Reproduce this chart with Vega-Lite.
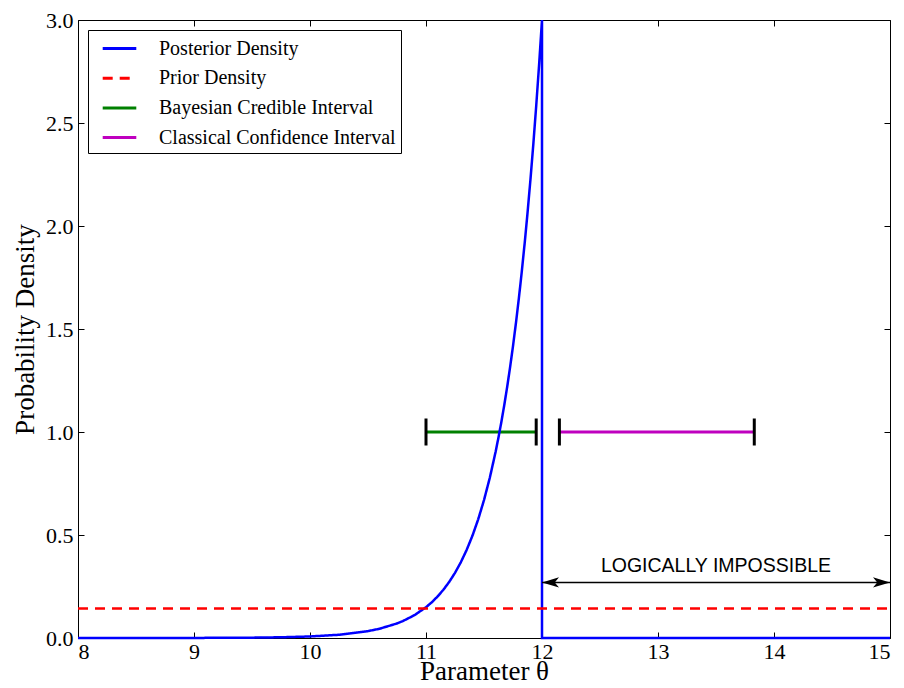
{
  "$schema": "https://vega.github.io/schema/vega-lite/v6.json",
  "width": 812,
  "height": 618,
  "autosize": {"type": "none"},
  "padding": {"left": 78, "top": 20, "right": 14, "bottom": 50},
  "background": "white",
  "config": {
    "view": {"stroke": "black", "strokeWidth": 1},
    "axis": {
      "domain": false,
      "grid": false,
      "ticks": true,
      "tickColor": "black",
      "tickSize": -6,
      "tickWidth": 1,
      "labelFont": "Liberation Serif",
      "labelFontSize": 22,
      "labelColor": "black",
      "titleFont": "Liberation Serif",
      "titleFontSize": 27,
      "titleFontWeight": "normal",
      "titleColor": "black"
    },
    "legend": {
      "orient": "top-left",
      "offset": 10,
      "padding": 5,
      "strokeColor": "black",
      "fillColor": "white",
      "cornerRadius": 0,
      "labelFont": "Liberation Serif",
      "labelFontSize": 20,
      "labelColor": "black",
      "labelLimit": 500,
      "labelExpr": "datum.label + '      '",
      "symbolType": "M-1.4,0L1.4,0",
      "symbolStrokeWidth": 3,
      "symbolSize": 576,
      "symbolOffset": 13,
      "labelOffset": 26,
      "rowPadding": 5.7
    }
  },
  "datasets": {
    "posterior": [
      {"i": 1, "theta": 8.0, "density": 0.00002, "series": "Posterior Density"},
      {"i": 2, "theta": 8.5, "density": 0.00008, "series": "Posterior Density"},
      {"i": 3, "theta": 9.0, "density": 0.00037, "series": "Posterior Density"},
      {"i": 4, "theta": 9.5, "density": 0.00166, "series": "Posterior Density"},
      {"i": 5, "theta": 9.75, "density": 0.0035, "series": "Posterior Density"},
      {"i": 6, "theta": 10.0, "density": 0.00744, "series": "Posterior Density"},
      {"i": 7, "theta": 10.25, "density": 0.01575, "series": "Posterior Density"},
      {"i": 8, "theta": 10.5, "density": 0.0333, "series": "Posterior Density"},
      {"i": 9, "theta": 10.6, "density": 0.045, "series": "Posterior Density"},
      {"i": 10, "theta": 10.75, "density": 0.0706, "series": "Posterior Density"},
      {"i": 11, "theta": 10.8, "density": 0.082, "series": "Posterior Density"},
      {"i": 12, "theta": 10.9, "density": 0.1106, "series": "Posterior Density"},
      {"i": 13, "theta": 11.0, "density": 0.1494, "series": "Posterior Density"},
      {"i": 14, "theta": 11.05, "density": 0.1735, "series": "Posterior Density"},
      {"i": 15, "theta": 11.1, "density": 0.2016, "series": "Posterior Density"},
      {"i": 16, "theta": 11.15, "density": 0.2343, "series": "Posterior Density"},
      {"i": 17, "theta": 11.2, "density": 0.2722, "series": "Posterior Density"},
      {"i": 18, "theta": 11.25, "density": 0.3162, "series": "Posterior Density"},
      {"i": 19, "theta": 11.3, "density": 0.3674, "series": "Posterior Density"},
      {"i": 20, "theta": 11.35, "density": 0.4269, "series": "Posterior Density"},
      {"i": 21, "theta": 11.4, "density": 0.4959, "series": "Posterior Density"},
      {"i": 22, "theta": 11.45, "density": 0.5761, "series": "Posterior Density"},
      {"i": 23, "theta": 11.5, "density": 0.6694, "series": "Posterior Density"},
      {"i": 24, "theta": 11.55, "density": 0.7776, "series": "Posterior Density"},
      {"i": 25, "theta": 11.6, "density": 0.9036, "series": "Posterior Density"},
      {"i": 26, "theta": 11.625, "density": 0.974, "series": "Posterior Density"},
      {"i": 27, "theta": 11.65, "density": 1.0498, "series": "Posterior Density"},
      {"i": 28, "theta": 11.675, "density": 1.1316, "series": "Posterior Density"},
      {"i": 29, "theta": 11.7, "density": 1.2197, "series": "Posterior Density"},
      {"i": 30, "theta": 11.725, "density": 1.3147, "series": "Posterior Density"},
      {"i": 31, "theta": 11.75, "density": 1.4171, "series": "Posterior Density"},
      {"i": 32, "theta": 11.775, "density": 1.5276, "series": "Posterior Density"},
      {"i": 33, "theta": 11.8, "density": 1.6464, "series": "Posterior Density"},
      {"i": 34, "theta": 11.825, "density": 1.775, "series": "Posterior Density"},
      {"i": 35, "theta": 11.85, "density": 1.9129, "series": "Posterior Density"},
      {"i": 36, "theta": 11.875, "density": 2.062, "series": "Posterior Density"},
      {"i": 37, "theta": 11.9, "density": 2.2225, "series": "Posterior Density"},
      {"i": 38, "theta": 11.925, "density": 2.3955, "series": "Posterior Density"},
      {"i": 39, "theta": 11.95, "density": 2.5821, "series": "Posterior Density"},
      {"i": 40, "theta": 11.975, "density": 2.783, "series": "Posterior Density"},
      {"i": 41, "theta": 12.0, "density": 3.0, "series": "Posterior Density"},
      {"i": 42, "theta": 12.0, "density": 0.0, "series": "Posterior Density"},
      {"i": 43, "theta": 15.0, "density": 0.0, "series": "Posterior Density"}
    ],
    "prior": [
      {"x0": 8, "x1": 15, "density": 0.142857, "series": "Prior Density"}
    ],
    "intervals": [
      {"lo": 11.0, "hi": 11.95, "level": 1.0, "series": "Bayesian Credible Interval"},
      {"lo": 12.15, "hi": 13.83, "level": 1.0, "series": "Classical Confidence Interval"}
    ],
    "caps": [
      {"theta": 11.0, "level": 1.0},
      {"theta": 11.95, "level": 1.0},
      {"theta": 12.15, "level": 1.0},
      {"theta": 13.83, "level": 1.0}
    ],
    "arrow": [
      {"x0": 12, "x1": 15, "level": 0.27}
    ],
    "heads": [
      {"theta": 12, "level": 0.27, "dir": "left"},
      {"theta": 15, "level": 0.27, "dir": "right"}
    ],
    "note": [
      {"theta": 13.5, "level": 0.35, "text": "LOGICALLY IMPOSSIBLE"}
    ]
  },
  "resolve": {"axis": {"x": "independent", "y": "independent"}},
  "layer": [
    {
      "data": {"name": "intervals"},
      "mark": {"type": "rule", "strokeWidth": 3},
      "encoding": {
        "x": {"field": "lo", "type": "quantitative", "scale": {"domain": [8, 15], "nice": false}, "axis": null},
        "x2": {"field": "hi"},
        "y": {"field": "level", "type": "quantitative", "scale": {"domain": [0, 3], "nice": false}, "axis": null},
        "color": {"field": "series", "type": "nominal", "legend": {"title": null},
          "scale": {"domain": ["Posterior Density", "Prior Density", "Bayesian Credible Interval", "Classical Confidence Interval"],
                    "range": ["#0000ff", "#ff0000", "#008000", "#bf00bf"]}},
        "strokeDash": {"field": "series", "type": "nominal", "legend": {"title": null},
          "scale": {"domain": ["Posterior Density", "Prior Density", "Bayesian Credible Interval", "Classical Confidence Interval"],
                    "range": [[1, 0], [10, 7], [1, 0], [1, 0]]}}
      }
    },
    {
      "data": {"name": "caps"},
      "mark": {"type": "tick", "orient": "vertical", "size": 27, "thickness": 3, "color": "black", "opacity": 1},
      "encoding": {
        "x": {"field": "theta", "type": "quantitative", "axis": null},
        "y": {"field": "level", "type": "quantitative", "axis": null}
      }
    },
    {
      "data": {"name": "posterior"},
      "mark": {"type": "line", "strokeWidth": 2.5},
      "encoding": {
        "x": {"field": "theta", "type": "quantitative", "title": "Parameter θ",
              "axis": {"orient": "bottom", "values": [8, 9, 10, 11, 12, 13, 14, 15], "format": "d", "labelPadding": 9, "titlePadding": -4}},
        "y": {"field": "density", "type": "quantitative", "title": "Probability Density",
              "axis": {"orient": "left", "values": [0, 0.5, 1, 1.5, 2, 2.5, 3], "format": ".1f", "labelPadding": 11, "titlePadding": 6}},
        "order": {"field": "i", "type": "quantitative"},
        "color": {"field": "series", "type": "nominal", "legend": {"title": null}},
        "strokeDash": {"field": "series", "type": "nominal", "legend": {"title": null}}
      }
    },
    {
      "data": {"name": "prior"},
      "mark": {"type": "rule", "strokeWidth": 2.5},
      "encoding": {
        "x": {"field": "x0", "type": "quantitative",
              "axis": {"orient": "top", "values": [8, 9, 10, 11, 12, 13, 14, 15], "labels": false, "title": null}},
        "x2": {"field": "x1"},
        "y": {"field": "density", "type": "quantitative",
              "axis": {"orient": "right", "values": [0, 0.5, 1, 1.5, 2, 2.5, 3], "labels": false, "title": null}},
        "color": {"field": "series", "type": "nominal", "legend": {"title": null}},
        "strokeDash": {"field": "series", "type": "nominal", "legend": {"title": null}}
      }
    },
    {
      "data": {"name": "arrow"},
      "mark": {"type": "rule", "strokeWidth": 1.5, "color": "black"},
      "encoding": {
        "x": {"field": "x0", "type": "quantitative", "axis": null},
        "x2": {"field": "x1"},
        "y": {"field": "level", "type": "quantitative", "axis": null}
      }
    },
    {
      "data": {"name": "heads"},
      "mark": {"type": "point", "filled": true, "color": "black", "opacity": 1, "size": 289, "strokeWidth": 0},
      "encoding": {
        "x": {"field": "theta", "type": "quantitative", "axis": null},
        "y": {"field": "level", "type": "quantitative", "axis": null},
        "shape": {"field": "dir", "type": "nominal", "legend": null,
          "scale": {"domain": ["left", "right"], "range": ["M0,0L2,-0.6L1.5,0L2,0.6Z", "M0,0L-2,-0.6L-1.5,0L-2,0.6Z"]}}
      }
    },
    {
      "data": {"name": "note"},
      "mark": {"type": "text", "font": "Liberation Sans", "fontSize": 19.5, "color": "black", "align": "center", "baseline": "middle"},
      "encoding": {
        "x": {"field": "theta", "type": "quantitative", "axis": null},
        "y": {"field": "level", "type": "quantitative", "axis": null},
        "text": {"field": "text"}
      }
    }
  ]
}
